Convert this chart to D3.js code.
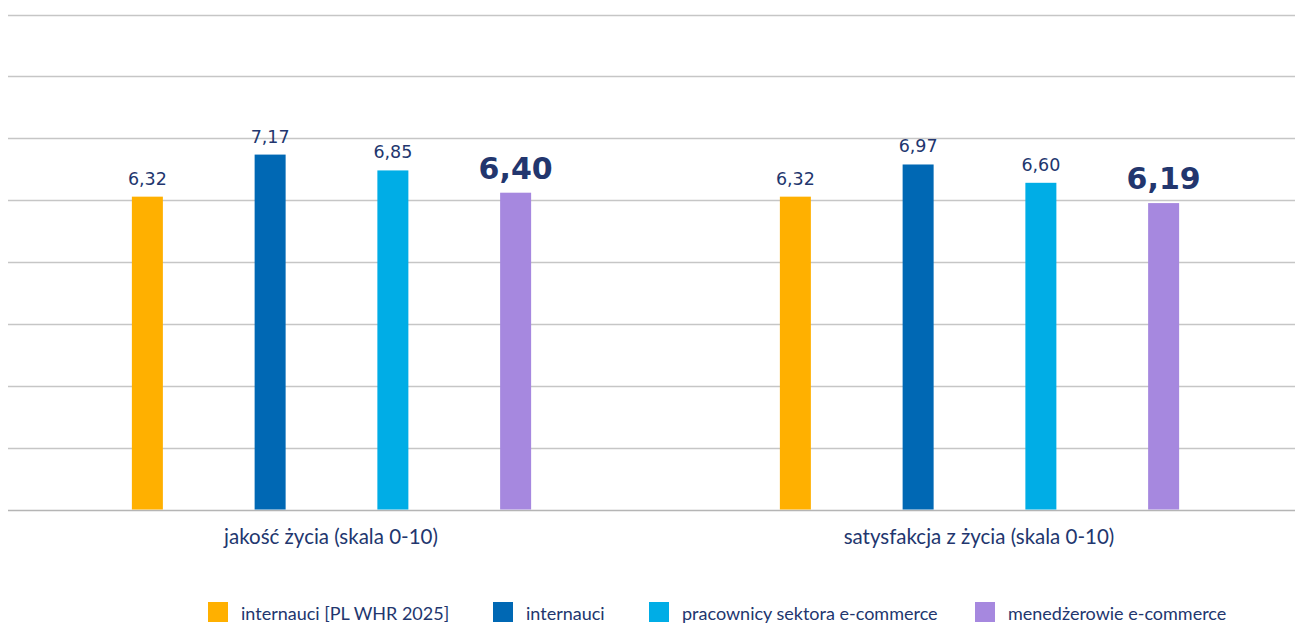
<!DOCTYPE html>
<html><head><meta charset="utf-8">
<script src="https://cdn.jsdelivr.net/npm/d3@7"></script>
<style>
html,body{margin:0;padding:0;background:#fff;}
svg{display:block;font-family:"Lato","Open Sans",sans-serif;}
</style></head>
<body>
<svg id="chart" width="1295" height="623"></svg>
<script>
const categories = ["jakość życia (skala 0-10)", "satysfakcja z życia (skala 0-10)"];
const seriesNames = ["internauci [PL WHR 2025]", "internauci", "pracownicy sektora e-commerce", "menedżerowie e-commerce"];
const seriesColors = ["#FFB000", "#0068B4", "#00ADE6", "#A688DF"];
const values_whr = [6.32, 6.32];
const values_internauci = [7.17, 6.97];
const values_pracownicy = [6.85, 6.60];
const values_menedzerowie = [6.40, 6.19];
const labels_whr = ["6,32", "6,32"];
const labels_internauci = ["7,17", "6,97"];
const labels_pracownicy = ["6,85", "6,60"];
const labels_menedzerowie = ["6,40", "6,19"];
const gridTicks = [0, 1.25, 2.5, 3.75, 5, 6.25, 7.5, 8.75, 10];

const seriesValues = [values_whr, values_internauci, values_pracownicy, values_menedzerowie];
const seriesLabels = [labels_whr, labels_internauci, labels_pracownicy, labels_menedzerowie];

const svg = d3.select("#chart");
const textColor = "#22366E";

const y = d3.scaleLinear().domain([0, 10]).range([509.5, 14.5]);
const x0 = d3.scaleBand().domain(categories).range([0, 1296]).padding(0);
const x1 = d3.scaleBand().domain(d3.range(4)).range([86, 577]).padding(0);
const barW = 31;

// gridlines
svg.append("g").selectAll("line").data(gridTicks).join("line")
  .attr("x1", 8).attr("x2", 1295)
  .attr("y1", d => Math.round(y(d)) + 0.5).attr("y2", d => Math.round(y(d)) + 0.5)
  .attr("stroke", d => d === 0 ? "#b5b5b5" : "#c6c6c6")
  .attr("stroke-width", 1.3);

// bars
const groups = svg.append("g").selectAll("g").data(categories).join("g")
  .attr("transform", c => `translate(${x0(c)},0)`);

groups.each(function(c, ci) {
  const g = d3.select(this);
  seriesValues.forEach((vals, si) => {
    const cx = x1(si) + x1.bandwidth() / 2;
    g.append("rect")
      .attr("x", cx - barW / 2)
      .attr("y", y(vals[ci]))
      .attr("width", barW)
      .attr("height", y(0) - y(vals[ci]))
      .attr("fill", seriesColors[si]);
    const bold = si === 3;
    g.append("text")
      .attr("x", cx)
      .attr("y", y(vals[ci]) - (bold ? 14 : 12))
      .attr("text-anchor", "middle")
      .attr("fill", textColor)
      .attr("font-family", "'DejaVu Sans', sans-serif")
      .attr("font-size", bold ? 30 : 17.5)
      .attr("font-weight", bold ? 700 : 400)
      .text(seriesLabels[si][ci]);
  });
  g.append("text")
    .attr("x", x0.bandwidth() / 2 + 7)
    .attr("y", 544)
    .attr("text-anchor", "middle")
    .attr("fill", textColor)
    .attr("font-size", 20.5)
    .text(c);
});

// legend
const legendX = [208, 493, 649, 975];
const legend = svg.append("g").selectAll("g").data(seriesNames).join("g")
  .attr("transform", (d, i) => `translate(${legendX[i]},602)`);
legend.append("rect").attr("width", 20).attr("height", 20).attr("fill", (d, i) => seriesColors[i]);
legend.append("text").attr("x", 33).attr("y", 17.5)
  .attr("fill", textColor).attr("font-size", 18).text(d => d);
</script>
</body></html>
